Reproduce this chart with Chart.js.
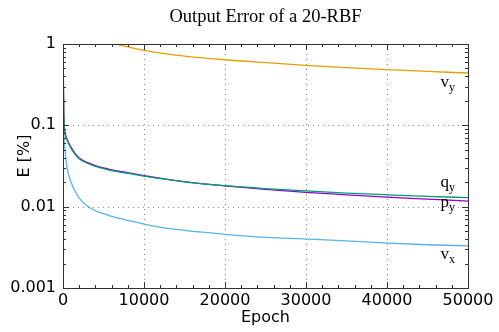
<!DOCTYPE html>
<html>
<head>
<meta charset="utf-8">
<script src="https://cdn.jsdelivr.net/npm/chart.js@4.4.1/dist/chart.umd.min.js"></script>
<style>
  html, body { margin: 0; padding: 0; background: #fff; }
  #wrap { width: 499px; height: 332px; }
</style>
</head>
<body>
<div id="wrap"><canvas id="errChart"></canvas></div>
<script>
// epochs where the error was sampled
const epochs = [0, 100, 250, 500, 1000, 1500, 2000, 3000, 4000, 5000, 6000, 8000, 10000,
                12500, 15000, 20000, 25000, 30000, 35000, 40000, 45000, 50000];

// output error per component [%]
const errVy = [6.0, 4.5, 3.6, 3.0, 2.1, 1.8, 1.6, 1.35, 1.2, 1.1, 1.03, 0.92, 0.835,
               0.76, 0.71, 0.64, 0.59, 0.547, 0.513, 0.484, 0.46, 0.44];
const errQy = [1.0, 0.13, 0.08, 0.066, 0.052, 0.044, 0.0388, 0.0342, 0.0313, 0.0293, 0.0278, 0.0257, 0.0238,
               0.0218, 0.0202, 0.0181, 0.0167, 0.0156, 0.0147, 0.0140, 0.0134, 0.0129];
const errPy = [1.0, 0.135, 0.082, 0.068, 0.0535, 0.0452, 0.0398, 0.0350, 0.0320, 0.0300, 0.0284, 0.0262, 0.0241,
               0.0220, 0.0203, 0.0180, 0.0163, 0.0150, 0.0140, 0.0131, 0.0124, 0.0117];
const errVx = [0.6, 0.09, 0.05, 0.030, 0.020, 0.0155, 0.0127, 0.0102, 0.0089, 0.0082, 0.0076, 0.0068, 0.0061,
               0.0055, 0.0051, 0.00457, 0.0042, 0.0040, 0.0038, 0.00357, 0.0034, 0.0033];

const yTickValues = [0.001, 0.01, 0.1, 1];
const yTickLabels = ['0.001', '0.01', '0.1', '1'];

// curve labels (text, subscript, where they sit in data space)
const labelNames = ['v', 'q', 'p', 'v'];
const labelSubs = ['y', 'y', 'y', 'x'];
const labelEpoch = [48400, 48400, 48400, 48400];
const labelValue = [0.30, 0.0173, 0.0098, 0.00225];

const toPoints = vals => epochs.map((e, i) => ({ x: e, y: vals[i] }));

const sans = 'DejaVu Sans';
const serif = '"Liberation Serif", "Times New Roman", serif';

Chart.defaults.font.family = sans;
Chart.defaults.font.size = 16;
Chart.defaults.color = '#000';

// grid, ticks, frame and texts in gnuplot style
const gnuplotFrame = {
    id: 'gnuplotFrame',
    beforeDatasetsDraw(chart) {
        const { ctx, chartArea: a, scales: { x, y } } = chart;
        ctx.save();
        ctx.strokeStyle = '#8a8a8a';
        ctx.lineWidth = 1;
        ctx.setLineDash([1, 4]);
        for (let e = 10000; e < 50000; e += 10000) {
            const px = Math.round(x.getPixelForValue(e)) + 0.5;
            ctx.beginPath(); ctx.moveTo(px, a.top); ctx.lineTo(px, a.bottom); ctx.stroke();
        }
        yTickValues.slice(1, -1).forEach(v => {
            const py = Math.round(y.getPixelForValue(v)) + 0.5;
            ctx.beginPath(); ctx.moveTo(a.left, py); ctx.lineTo(a.right, py); ctx.stroke();
        });
        ctx.restore();
    },
    afterDatasetsDraw(chart) {
        const { ctx, chartArea: a, scales: { x, y } } = chart;
        ctx.save();
        ctx.strokeStyle = '#333';
        ctx.lineWidth = 1;
        // minor + major ticks on x (bottom and top)
        for (let e = 0; e <= 50000; e += 2000) {
            const px = Math.round(x.getPixelForValue(e)) + 0.5;
            const len = e % 10000 === 0 ? 6 : 3;
            ctx.beginPath();
            ctx.moveTo(px, a.bottom); ctx.lineTo(px, a.bottom - len);
            ctx.moveTo(px, a.top); ctx.lineTo(px, a.top + len);
            ctx.stroke();
        }
        // minor + major ticks on y (left and right)
        for (let d = 0.001; d < 1.5; d *= 10) {
            for (let m = 1; m <= 9; m++) {
                const v = d * m;
                if (v > 1.0001) break;
                const py = Math.round(y.getPixelForValue(v)) + 0.5;
                const len = m === 1 ? 6 : 3;
                ctx.beginPath();
                ctx.moveTo(a.left, py); ctx.lineTo(a.left + len, py);
                ctx.moveTo(a.right, py); ctx.lineTo(a.right - len, py);
                ctx.stroke();
            }
        }
        ctx.strokeRect(Math.round(a.left) + 0.5, Math.round(a.top) + 0.5,
                       Math.round(a.right - a.left), Math.round(a.bottom - a.top));

        // curve labels
        ctx.fillStyle = '#000';
        ctx.textBaseline = 'alphabetic';
        ctx.textAlign = 'left';
        labelNames.forEach((n, i) => {
            const px = x.getPixelForValue(labelEpoch[i]);
            const py = y.getPixelForValue(labelValue[i]);
            ctx.font = '17px ' + serif;
            const w1 = ctx.measureText(n).width;
            ctx.font = '12px ' + serif;
            const w2 = ctx.measureText(labelSubs[i]).width;
            ctx.font = '17px ' + serif;
            ctx.fillText(n, px - w1 - w2, py);
            ctx.font = '12px ' + serif;
            ctx.fillText(labelSubs[i], px - w2, py + 4);
        });

        // title and axis titles
        const cx = (a.left + a.right) / 2;
        ctx.textAlign = 'center';
        ctx.textBaseline = 'middle';
        ctx.font = '18.5px ' + serif;
        ctx.fillText('Output Error of a 20-RBF', cx, 17);
        ctx.font = '16px "' + sans + '"';
        ctx.fillText('Epoch', cx, 318);
        ctx.translate(25, 156);
        ctx.rotate(-Math.PI / 2);
        ctx.fillText('E [%]', 0, 0);
        ctx.restore();
    }
};

const ctx = document.getElementById('errChart').getContext('2d');

const errChart = new Chart(ctx, {
    type: 'line',
    data: {
        datasets: [
            { label: 'v_y', data: toPoints(errVy), borderColor: '#e69f00' },
            { label: 'q_y', data: toPoints(errQy), borderColor: '#009e73' },
            { label: 'p_y', data: toPoints(errPy), borderColor: '#9400d3' },
            { label: 'v_x', data: toPoints(errVx), borderColor: '#56b4e9' }
        ]
    },
    options: {
        responsive: true,
        maintainAspectRatio: false,
        animation: false,
        layout: { padding: { top: 44, right: 31, left: 0, bottom: 0 } },
        elements: {
            point: { radius: 0 },
            line: { borderWidth: 1.3, cubicInterpolationMode: 'monotone' }
        },
        plugins: {
            legend: { display: false },
            tooltip: { enabled: false }
        },
        scales: {
            x: {
                type: 'linear',
                min: 0,
                max: 50000,
                grid: { display: false, drawTicks: false },
                border: { display: false },
                ticks: {
                    stepSize: 10000,
                    maxRotation: 0,
                    padding: 3,
                    color: '#000',
                    font: { family: sans, size: 16 },
                    callback: v => String(v)
                },
                afterFit: s => { s.height = 44; }
            },
            y: {
                type: 'logarithmic',
                min: 0.001,
                max: 1,
                grid: { display: false, drawTicks: false },
                border: { display: false },
                afterBuildTicks: s => { s.ticks = yTickValues.map(v => ({ value: v })); },
                ticks: {
                    padding: 7,
                    color: '#000',
                    font: { family: sans, size: 16 },
                    callback: (v, i) => yTickLabels[i]
                },
                afterFit: s => { s.width = 63; }
            }
        }
    },
    plugins: [gnuplotFrame]
});
</script>
</body>
</html>
